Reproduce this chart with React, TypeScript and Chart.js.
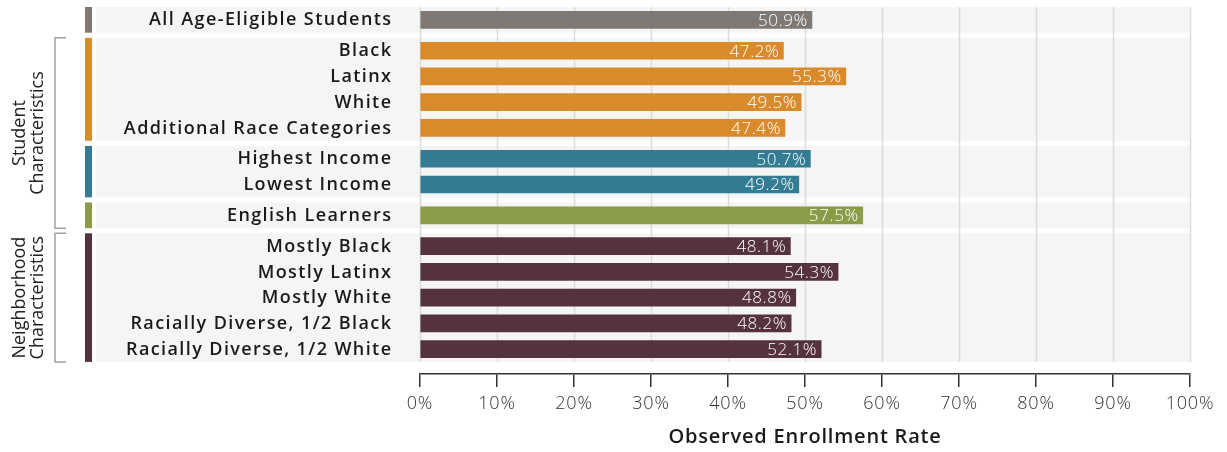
import React, { useEffect, useRef } from "react";
import { Chart, registerables } from "chart.js";

Chart.register(...registerables);

const categories = [
  "All Age-Eligible Students",
  "Black",
  "Latinx",
  "White",
  "Additional Race Categories",
  "Highest Income",
  "Lowest Income",
  "English Learners",
  "Mostly Black",
  "Mostly Latinx",
  "Mostly White",
  "Racially Diverse, 1/2 Black",
  "Racially Diverse, 1/2 White",
];
const values = [50.9, 47.2, 55.3, 49.5, 47.4, 50.7, 49.2, 57.5, 48.1, 54.3, 48.8, 48.2, 52.1];
const groupOf = [0, 1, 1, 1, 1, 2, 2, 3, 4, 4, 4, 4, 4];
const groupColors = ["#7e7974", "#d98b2c", "#337c94", "#8b9c48", "#55333e"];
const xTickValues = [0, 10, 20, 30, 40, 50, 60, 70, 80, 90, 100];
const brackets = [
  { lines: ["Student", "Characteristics"], fromGroup: 1, toGroup: 3 },
  { lines: ["Neighborhood", "Characteristics"], fromGroup: 4, toGroup: 4 },
];
const axisTitle = "Observed Enrollment Rate";

const GROUP_GAP = 0.2;
const positions = categories.map((_, i) => i + groupOf[i] * GROUP_GAP);
const FONT = "'Open Sans', 'DejaVu Sans', sans-serif";

function groupExtent(g: number) {
  const ps = positions.filter((_, i) => groupOf[i] === g);
  return [Math.min(...ps) - 0.5, Math.max(...ps) + 0.5];
}

const decorPlugin = {
  id: "decor",
  beforeDraw(chart: any) {
    const { ctx, chartArea, scales } = chart;
    const y = scales.y;
    const x = scales.x;
    ctx.save();
    const nGroups = groupColors.length;
    for (let g = 0; g < nGroups; g++) {
      const [a, b] = groupExtent(g);
      const top = y.getPixelForValue(a);
      const bot = y.getPixelForValue(b);
      ctx.fillStyle = "#f5f5f5";
      ctx.fillRect(96, top, chartArea.right - 96, bot - top);
      ctx.fillStyle = groupColors[g];
      ctx.fillRect(85, top, 7, bot - top);
    }
    const [t0] = groupExtent(0);
    const [, b4] = groupExtent(nGroups - 1);
    const gt = y.getPixelForValue(t0);
    const gb = y.getPixelForValue(b4);
    ctx.strokeStyle = "#dcdcd8";
    ctx.lineWidth = 1.5;
    xTickValues.forEach((v) => {
      const px = Math.round(x.getPixelForValue(v)) + 0.5;
      ctx.beginPath();
      ctx.moveTo(px, gt);
      ctx.lineTo(px, gb);
      ctx.stroke();
    });
    // category labels
    ctx.fillStyle = "#1a1a1a";
    ctx.font = `600 18px ${FONT}`;
    (ctx as any).letterSpacing = "1.4px";
    ctx.textAlign = "right";
    ctx.textBaseline = "middle";
    categories.forEach((c, i) => {
      ctx.fillText(c, 392.4, y.getPixelForValue(positions[i]) + 0.5);
    });
    ctx.restore();
    // slight tracking for the axis texts drawn by Chart.js
    (ctx as any).letterSpacing = "0.8px";
  },
  afterDatasetsDraw(chart: any) {
    const { ctx } = chart;
    const meta = chart.getDatasetMeta(0);
    ctx.save();
    ctx.fillStyle = "#ffffff";
    ctx.font = `300 17px ${FONT}`;
    (ctx as any).letterSpacing = "0.6px";
    ctx.textAlign = "right";
    ctx.textBaseline = "middle";
    meta.data.forEach((bar: any, i: number) => {
      ctx.fillText(values[i].toFixed(1) + "%", bar.x - 4, bar.y + 1);
    });
    ctx.restore();
  },
  afterDraw(chart: any) {
    const { ctx, scales } = chart;
    const y = scales.y;
    ctx.save();
    (ctx as any).letterSpacing = "0px";
    brackets.forEach((br) => {
      const top = y.getPixelForValue(groupExtent(br.fromGroup)[0]);
      const bot = y.getPixelForValue(groupExtent(br.toGroup)[1]);
      ctx.strokeStyle = "#a0a0a0";
      ctx.lineWidth = 1.5;
      ctx.beginPath();
      ctx.moveTo(66, top);
      ctx.lineTo(55, top);
      ctx.lineTo(55, bot);
      ctx.lineTo(66, bot);
      ctx.stroke();
      const mid = (top + bot) / 2;
      ctx.translate(29, mid);
      ctx.rotate(-Math.PI / 2);
      ctx.fillStyle = "#222";
      ctx.font = `400 18px ${FONT}`;
      ctx.textAlign = "center";
      ctx.textBaseline = "middle";
      ctx.fillText(br.lines[0], 0, -9);
      ctx.fillText(br.lines[1], 0, 9);
      ctx.setTransform(1, 0, 0, 1, 0, 0);
    });
    ctx.restore();
    (ctx as any).letterSpacing = "0px";
  },
};

export default function App() {
  const ref = useRef<HTMLCanvasElement | null>(null);
  useEffect(() => {
    document.body.style.margin = "0";
    if (!ref.current) return;
    const chart = new Chart(ref.current, {
      type: "bar",
      data: {
        datasets: [
          {
            data: values.map((v, i) => ({ x: v, y: positions[i] })),
            backgroundColor: groupOf.map((g) => groupColors[g]),
            barThickness: 17,
          },
        ],
      },
      options: {
        indexAxis: "y",
        animation: false,
        responsive: true,
        maintainAspectRatio: false,
        layout: { padding: { top: 7, right: 37, left: 0, bottom: 0 } },
        plugins: { legend: { display: false }, tooltip: { enabled: false } },
        scales: {
          x: {
            type: "linear",
            min: 0,
            max: 100,
            afterBuildTicks: (scale: any) => {
              scale.ticks = xTickValues.map((v) => ({ value: v }));
            },
            afterFit: (scale: any) => {
              scale.height = 78;
            },
            ticks: {
              callback: (v: any) => v + "%",
              font: { family: FONT, size: 18, weight: 300 },
              color: "#333",
              padding: 6,
            },
            grid: {
              drawOnChartArea: false,
              drawTicks: true,
              tickLength: 13,
              color: "#333",
              lineWidth: 1.5,
            },
            border: { display: true, color: "#333", width: 1.5 },
            title: {
              display: true,
              text: axisTitle,
              font: { family: FONT, size: 20, weight: 600 },
              color: "#1a1a1a",
              padding: { top: 0, bottom: 3 },
            },
          },
          y: {
            type: "linear",
            reverse: true,
            offset: false,
            min: -0.5,
            max: 13.77,
            afterFit: (scale: any) => {
              scale.width = 420;
            },
            ticks: { display: false },
            grid: { display: false },
            border: { display: false },
          },
        },
      },
      plugins: [decorPlugin],
    } as any);
    return () => chart.destroy();
  }, []);
  return (
    <div style={{ position: "absolute", left: 0, top: 0, width: 1227, height: 452 }}>
      <canvas ref={ref} />
    </div>
  );
}
